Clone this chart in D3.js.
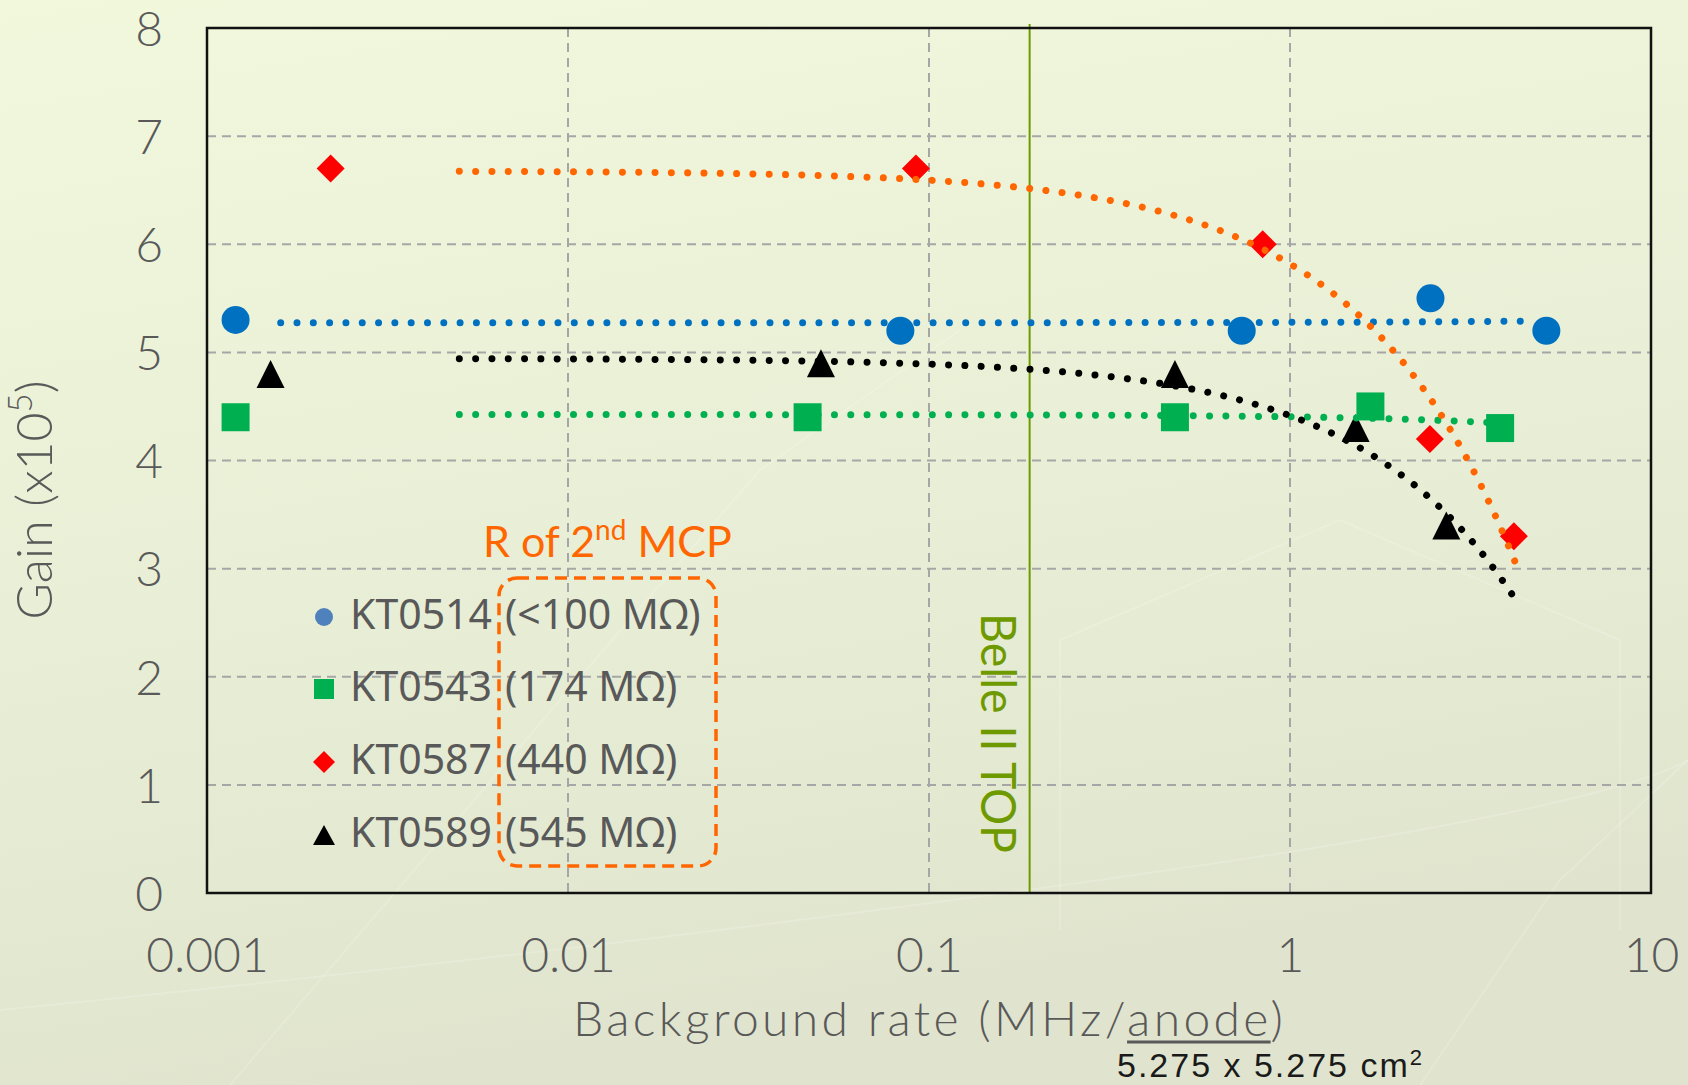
<!DOCTYPE html>
<html>
<head>
<meta charset="utf-8">
<script src="https://cdn.jsdelivr.net/npm/d3@7"></script>
<style>
  html, body { margin: 0; padding: 0; overflow: hidden; }
  svg { display: block; }
</style>
</head>
<body>
<svg id="chart" width="1688" height="1085"></svg>
<script>
// ---- data ----
const seriesNames = ["KT0514", "KT0543", "KT0587", "KT0589"];
const seriesResistance = ["(<100 MΩ)", "(174 MΩ)", "(440 MΩ)", "(545 MΩ)"];

// background rate (MHz/anode) and gain (x10^5) per MCP-PMT
const rateKT0514 = [0.0012, 0.0833, 0.735, 2.45, 5.13];
const gainKT0514 = [5.3, 5.2, 5.2, 5.5, 5.2];
const rateKT0543 = [0.0012, 0.0461, 0.48, 1.67, 3.82];
const gainKT0543 = [4.4, 4.4, 4.4, 4.5, 4.3];
const rateKT0587 = [0.0022, 0.092, 0.84, 2.44, 4.17];
const gainKT0587 = [6.7, 6.7, 6.0, 4.2, 3.3];
const rateKT0589 = [0.0015, 0.0502, 0.48, 1.52, 2.71];
const gainKT0589 = [4.8, 4.9, 4.8, 4.3, 3.4];

// extent of each linear trend line along the rate axis
const trendFrom = [0.0016, 0.005, 0.005, 0.005];
const trendTo = [4.75, 3.8, 4.2, 4.15];

const xTickValues = [0.001, 0.01, 0.1, 1, 10];
const xTickLabels = ["0.001", "0.01", "0.1", "1", "10"];
const yTickValues = [0, 1, 2, 3, 4, 5, 6, 7, 8];
const belleRate = 0.19;

// ---- styling ----
const markerColors = ["#0070C0", "#00B050", "#FF0000", "#000000"];
const trendColors = ["#0070C0", "#00B050", "#FF6600", "#000000"];
const legendColors = ["#4F81BD", "#00B050", "#FF0000", "#000000"];
const shapes = ["circle", "square", "diamond", "triangle"];
const textGray = "#595959";
const mainFont = "Lato, 'Liberation Sans', sans-serif";
const legendFont = "'Noto Sans', 'Open Sans', sans-serif";

const W = 1688, H = 1085;
const margin = { left: 207, right: 37, top: 28, bottom: 192 };
const svg = d3.select("#chart");

// background
const defs = svg.append("defs");
const bg = defs.append("linearGradient").attr("id", "bg")
  .attr("x1", 0).attr("y1", 0).attr("x2", 0.25).attr("y2", 1);
bg.append("stop").attr("offset", "0%").attr("stop-color", "#F2F8DC");
bg.append("stop").attr("offset", "55%").attr("stop-color", "#E9EFD6");
bg.append("stop").attr("offset", "100%").attr("stop-color", "#E0E4CE");
svg.append("rect").attr("width", W).attr("height", H).attr("fill", "url(#bg)");

// faint decorative outlines in the backdrop
const deco = svg.append("g").attr("fill", "none").attr("stroke", "#ffffff")
  .attr("stroke-opacity", 0.16).attr("stroke-width", 2);
deco.append("path").attr("d", "M0,1010 Q600,950 1100,880 T1688,760");
deco.append("path").attr("d", "M230,1085 L560,700 L760,470 L960,330");
deco.append("path").attr("d", "M1420,1085 L1560,880 L1688,760");
deco.append("path").attr("d", "M1060,930 L1060,640 L1340,520 L1620,640 L1620,930");

const x = d3.scaleLog().domain([0.001, 10]).range([margin.left, W - margin.right]);
const y = d3.scaleLinear().domain([0, 8]).range([H - margin.bottom, margin.top]);

const plotL = x.range()[0], plotR = x.range()[1];
const plotT = y(8), plotB = y(0);

// gridlines
const grid = svg.append("g").attr("stroke", "#A6A6A6").attr("stroke-width", 2)
  .attr("stroke-dasharray", "9 6");
grid.selectAll("line.h").data(yTickValues.filter(v => v > 0 && v < 8)).join("line")
  .attr("x1", plotL).attr("x2", plotR).attr("y1", d => y(d)).attr("y2", d => y(d));
grid.selectAll("line.v").data(xTickValues.slice(1, -1)).join("line")
  .attr("y1", plotT).attr("y2", plotB).attr("x1", d => x(d)).attr("x2", d => x(d));

// axes (labels only, frame drawn separately)
const yAxis = d3.axisLeft(y).tickValues(yTickValues).tickSize(0).tickPadding(44)
  .tickFormat(d3.format("d"));
const yg = svg.append("g").attr("transform", `translate(${plotL},0)`).call(yAxis);
const xAxis = d3.axisBottom(x).tickValues(xTickValues).tickSize(0).tickPadding(44)
  .tickFormat((d, i) => xTickLabels[i]);
const xg = svg.append("g").attr("transform", `translate(0,${plotB})`).call(xAxis);
[yg, xg].forEach(g => {
  g.select(".domain").remove();
  g.selectAll("text").attr("font-family", mainFont).attr("font-weight", 300)
    .attr("font-size", 48).attr("fill", textGray);
});
yg.selectAll("text").attr("dy", "0.36em");
xg.selectAll("text").attr("dy", "0.72em");

// Belle II TOP reference line
svg.append("line").attr("x1", x(belleRate)).attr("x2", x(belleRate))
  .attr("y1", plotT - 4).attr("y2", plotB)
  .attr("stroke", "#6E9A00").attr("stroke-width", 2);
svg.append("text")
  .attr("transform", `translate(${x(belleRate) - 49},613) rotate(90)`)
  .attr("font-family", mainFont).attr("font-size", 48).attr("fill", "#6E9A00")
  .attr("textLength", 240).attr("lengthAdjust", "spacingAndGlyphs")
  .text("Belle II TOP");

// markers
function markerPath(shape, w, h) {
  const a = w / 2, b = h / 2;
  switch (shape) {
    case "circle": return d3.symbol(d3.symbolCircle, Math.PI * a * a)();
    case "square": return `M${-a},${-b}H${a}V${b}H${-a}Z`;
    case "diamond": return `M0,${-b}L${a},0L0,${b}L${-a},0Z`;
    case "triangle": return `M0,${-b}L${a},${b}L${-a},${b}Z`;
  }
}
const rates = [rateKT0514, rateKT0543, rateKT0587, rateKT0589];
const gains = [gainKT0514, gainKT0543, gainKT0587, gainKT0589];
const series = seriesNames.map((name, i) => ({
  name, i,
  points: rates[i].map((r, k) => ({ r, g: gains[i][k] }))
}));

const markers = svg.append("g");
series.forEach(s => {
  markers.append("g").selectAll("path").data(s.points).join("path")
    .attr("transform", d => `translate(${x(d.r)},${y(d.g)})`)
    .attr("d", markerPath(shapes[s.i], 28, 28))
    .attr("fill", markerColors[s.i]);
});

// least-squares linear trend for each series, drawn on the log rate axis
const trend = svg.append("g").attr("fill", "none");
series.forEach(s => {
  const xs = s.points.map(p => p.r), ys = s.points.map(p => p.g);
  const mx = d3.mean(xs), my = d3.mean(ys);
  const sxy = d3.sum(xs, (v, k) => (v - mx) * (ys[k] - my));
  const sxx = d3.sum(xs, v => (v - mx) * (v - mx));
  const slope = sxy / sxx, icpt = my - slope * mx;
  const lo = Math.log10(trendFrom[s.i]), hi = Math.log10(trendTo[s.i]);
  const samples = d3.range(0, 201).map(k => {
    const r = Math.pow(10, lo + (hi - lo) * k / 200);
    return { r, g: icpt + slope * r };
  });
  trend.append("path").datum(samples)
    .attr("d", d3.line().x(d => x(d.r)).y(d => y(d.g)))
    .attr("stroke", trendColors[s.i]).attr("stroke-width", 7)
    .attr("stroke-linecap", "round").attr("stroke-dasharray", "0.01 16.3");
});

// plot frame
svg.append("rect").attr("x", plotL).attr("y", plotT)
  .attr("width", plotR - plotL).attr("height", plotB - plotT)
  .attr("fill", "none").attr("stroke", "#111").attr("stroke-width", 2.5);

// spread a text's letters so it spans the given width
function fitWidth(sel, width) {
  const n = sel.text().length;
  const natural = sel.node().getComputedTextLength();
  if (n > 1) sel.attr("letter-spacing", (width - natural) / (n - 1));
}

// axis titles
const yt = svg.append("text")
  .attr("transform", `translate(52,500) rotate(-90)`)
  .attr("text-anchor", "middle").attr("font-family", mainFont).attr("font-weight", 300)
  .attr("font-size", 50).attr("fill", textGray);
yt.append("tspan").text("Gain (x10");
yt.append("tspan").attr("baseline-shift", "super").attr("font-size", 33).text("5");
yt.append("tspan").text(")");

const xt = svg.append("text")
  .attr("x", 573).attr("y", 1036)
  .attr("font-family", mainFont).attr("font-weight", 300)
  .attr("font-size", 48).attr("fill", textGray);
xt.append("tspan").text("Background rate (MHz/");
xt.append("tspan").text("anode");
xt.append("tspan").text(")");
fitWidth(xt, 710);
{
  const node = xt.node();
  const startIdx = "Background rate (MHz/".length;
  const x0 = node.getStartPositionOfChar(startIdx).x;
  const x1 = node.getEndPositionOfChar(startIdx + 4).x;
  svg.append("line").attr("x1", x0).attr("x2", x1)
    .attr("y1", 1042).attr("y2", 1042)
    .attr("stroke", textGray).attr("stroke-width", 3);
}

const sub = svg.append("text").attr("x", 1117).attr("y", 1077)
  .attr("font-family", "'Liberation Sans', Arial, sans-serif")
  .attr("font-size", 34).attr("fill", "#1a1a1a");
sub.append("tspan").text("5.275 x 5.275 cm");
sub.append("tspan").attr("baseline-shift", "super").attr("font-size", 22).text("2");
fitWidth(sub, 305);

// legend
const legendY = [617, 689, 762, 835];
const legendSizes = [[18, 18], [20, 20], [22, 22], [22, 20]];
const legend = svg.append("g");
seriesNames.forEach((name, i) => {
  legend.append("path")
    .attr("transform", `translate(324,${legendY[i]})`)
    .attr("d", markerPath(shapes[i], legendSizes[i][0], legendSizes[i][1]))
    .attr("fill", legendColors[i]);
  legend.append("text").attr("x", 350).attr("y", legendY[i] + 12)
    .attr("font-family", legendFont).attr("font-size", 41).attr("fill", textGray)
    .text(name);
  legend.append("text").attr("x", 505).attr("y", legendY[i] + 12)
    .attr("font-family", legendFont).attr("font-size", 41).attr("fill", textGray)
    .text(seriesResistance[i]);
});

// resistance highlight box and caption
svg.append("rect").attr("x", 499).attr("y", 578).attr("width", 217).attr("height", 288)
  .attr("rx", 18).attr("fill", "none").attr("stroke", "#FF6600")
  .attr("stroke-width", 3.5).attr("stroke-dasharray", "12 7");
const cap = svg.append("text").attr("x", 483).attr("y", 557)
  .attr("font-family", mainFont).attr("font-size", 43).attr("fill", "#FF6600");
cap.append("tspan").text("R of 2");
cap.append("tspan").attr("baseline-shift", "super").attr("font-size", 28).text("nd");
cap.append("tspan").text(" MCP");
</script>
</body>
</html>
